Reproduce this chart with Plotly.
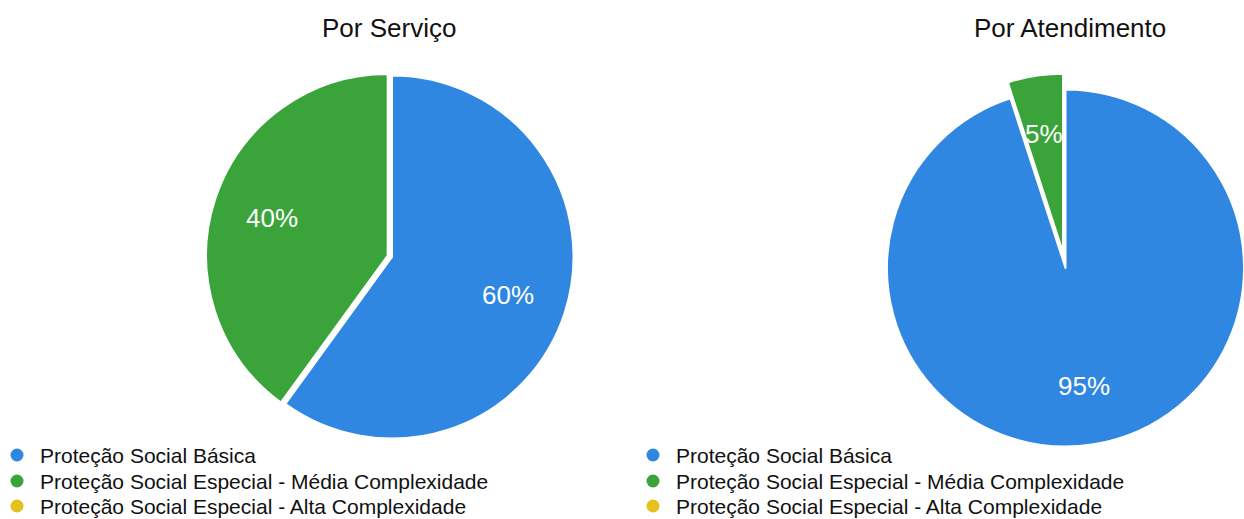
import math
import plotly.graph_objects as go

# --- data ---------------------------------------------------------------
categories = [
    "Proteção Social Básica",
    "Proteção Social Especial - Média Complexidade",
    "Proteção Social Especial - Alta Complexidade",
]
colors = ["#2F87E2", "#3AA43A", "#E6C021"]
por_servico = [60, 40, 0]
por_atendimento = [95, 5, 0]
chart_titles = ["Por Serviço", "Por Atendimento"]

# --- layout constants (pixels) -----------------------------------------
W, H = 1244, 519
FONT = "Liberation Sans, Arial, Helvetica, sans-serif"
CLEAR = "rgba(0,0,0,0)"
LABEL_RADIUS = 0.67  # percentage labels sit at this fraction of the radius


def px_x(x):
    return x / W


def px_y(y):
    return 1 - y / H


def domain(cx, cy, half):
    return dict(x=[px_x(cx - half), px_x(cx + half)],
                y=[px_y(cy + half), px_y(cy - half)])


def bisector(values, idx):
    total = sum(values)
    return (sum(values[:idx]) + values[idx] / 2) / total * 2 * math.pi


def polar(cx, cy, dist, ang):
    return cx + dist * math.sin(ang), cy - dist * math.cos(ang)


common = dict(
    labels=categories,
    sort=False,
    direction="clockwise",
    rotation=0,
    textinfo="none",
    hoverinfo="label+percent",
    showlegend=False,
)

annotations = []


def percent_labels(values, cx, cy, r, shifts):
    total = sum(values)
    for i, v in enumerate(values):
        if not v:
            continue
        ang = bisector(values, i)
        ox, oy = polar(cx, cy, shifts[i], ang)
        x, y = polar(ox, oy, r * LABEL_RADIUS, ang)
        annotations.append(dict(
            text=f"{round(v / total * 100)}%", x=px_x(x), y=px_y(y),
            xref="paper", yref="paper", xanchor="center", yanchor="middle",
            showarrow=False, font=dict(family=FONT, size=26, color="white"),
        ))


fig = go.Figure()

# left pie: Por Serviço
lcx, lcy, lr = 392, 257, 181.5
left_pull = [0, 0.025, 0]
fig.add_trace(go.Pie(
    values=por_servico,
    marker=dict(colors=colors, line=dict(color="white", width=2)),
    pull=left_pull,
    domain=domain(lcx, lcy, lr * (1 + max(left_pull))),
    **common,
))
percent_labels(por_servico, lcx, lcy, lr, [p * lr for p in left_pull])

# right pie: Por Atendimento (the small slice is drawn shifted outwards)
rcx, rcy, rr = 1065.5, 268, 178.5
shift = 16
fig.add_trace(go.Pie(
    values=por_atendimento,
    marker=dict(colors=[colors[0], CLEAR, CLEAR],
                line=dict(color=["white", CLEAR, CLEAR], width=2)),
    domain=domain(rcx, rcy, rr),
    **common,
))
sx, sy = polar(rcx, rcy, shift, bisector(por_atendimento, 1))
fig.add_trace(go.Pie(
    values=por_atendimento,
    marker=dict(colors=[CLEAR, colors[1], CLEAR],
                line=dict(color=[CLEAR, "white", CLEAR], width=2)),
    domain=domain(sx, sy, rr),
    **common,
))
percent_labels(por_atendimento, rcx, rcy, rr, [0, shift, 0])

# titles
for title, cx in zip(chart_titles, [389, 1070]):
    annotations.append(dict(
        text=title, x=px_x(cx), y=px_y(28), xref="paper", yref="paper",
        xanchor="center", yanchor="middle", showarrow=False,
        font=dict(family=FONT, size=26, color="#111111"),
    ))

# legends with round markers under each pie
shapes = []
row_y = [455, 481, 506]
for lx in [17, 653]:
    for name, col, y in zip(categories, colors, row_y):
        r = 6.5
        shapes.append(dict(
            type="circle", xref="paper", yref="paper",
            x0=px_x(lx - r), x1=px_x(lx + r), y0=px_y(y + r), y1=px_y(y - r),
            fillcolor=col, line=dict(width=0),
        ))
        annotations.append(dict(
            text=name, x=px_x(lx + 22), y=px_y(y), xref="paper", yref="paper",
            xanchor="left", yanchor="middle", showarrow=False, borderpad=0,
            font=dict(family=FONT, size=21, color="#111111"),
        ))

fig.update_layout(
    width=W, height=H,
    margin=dict(l=0, r=0, t=0, b=0),
    paper_bgcolor="white",
    plot_bgcolor="white",
    annotations=annotations,
    shapes=shapes,
)

fig.write_html("out.html")
